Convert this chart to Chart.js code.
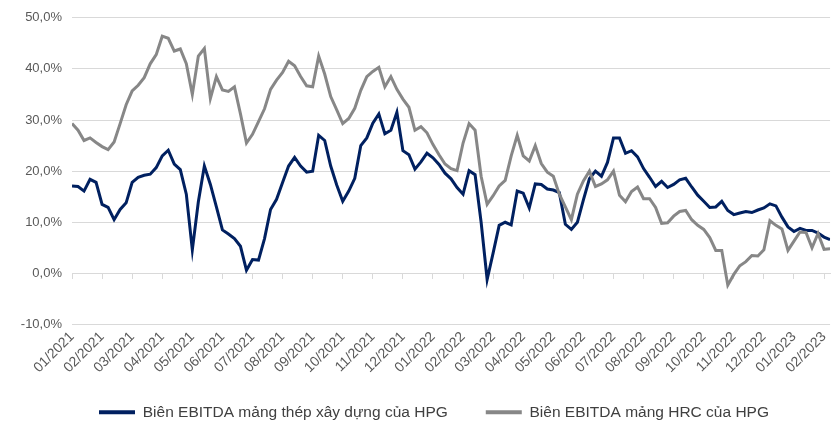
<!DOCTYPE html>
<html>
<head>
<meta charset="utf-8">
<script src="https://cdn.jsdelivr.net/npm/chart.js@4.4.1/dist/chart.umd.min.js"></script>
<style>
  html, body { margin: 0; padding: 0; background: #fff; }
</style>
</head>
<body>
<canvas id="myChart" width="840" height="423"></canvas>
<script>
// nhãn tháng trên trục hoành
var thang = ['01/2021','02/2021','03/2021','04/2021','05/2021','06/2021','07/2021','08/2021','09/2021','10/2021','11/2021','12/2021',
             '01/2022','02/2022','03/2022','04/2022','05/2022','06/2022','07/2022','08/2022','09/2022','10/2022','11/2022','12/2022',
             '01/2023','02/2023'];
var nhanTrucTung = ['-10,0%','0,0%','10,0%','20,0%','30,0%','40,0%','50,0%'];
var buoc = 0.2; // khoảng cách giữa 2 điểm, tính theo tháng

// Biên EBITDA mảng thép xây dựng (%)
var bienThepXD = [
  17.1, 17.0, 16.1, 18.4, 17.8, 13.5, 12.9, 10.5, 12.5, 13.8,
  17.8, 18.8, 19.2, 19.4, 20.7, 23.0, 24.1, 21.4, 20.3, 15.5,
  4.6, 14.0, 21.0, 17.4, 13.0, 8.5, 7.7, 6.8, 5.3, 0.6,
  2.7, 2.6, 6.8, 12.5, 14.5, 17.8, 21.0, 22.7, 21.0, 19.8,
  20.0, 27.0, 26.0, 21.0, 17.3, 14.1, 16.1, 18.6, 25.0, 26.5,
  29.4, 31.2, 27.3, 28.0, 31.5, 24.0, 23.2, 20.4, 21.8, 23.5,
  22.6, 21.3, 19.6, 18.5, 16.8, 15.5, 20.1, 19.3, 10.0, -1.2,
  4.0, 9.4, 10.0, 9.5, 16.1, 15.7, 12.8, 17.5, 17.4, 16.5,
  16.3, 15.8, 9.6, 8.6, 10.0, 14.4, 18.5, 20.0, 19.0, 21.7,
  26.5, 26.5, 23.5, 24.0, 22.8, 20.5, 18.8, 17.0, 18.0, 16.8,
  17.4, 18.3, 18.6, 16.9, 15.3, 14.1, 12.9, 13.0, 14.1, 12.3,
  11.5, 11.8, 12.1, 11.9, 12.4, 12.8, 13.6, 13.2, 11.0, 9.1,
  8.2, 8.8, 8.4, 8.4, 7.9, 7.1, 6.6
];

// Biên EBITDA mảng HRC (%)
var bienHRC = [
  29.3, 28.0, 26.0, 26.5, 25.6, 24.8, 24.2, 25.7, 29.3, 33.0,
  35.7, 36.8, 38.3, 41.0, 42.8, 46.4, 46.0, 43.5, 43.9, 41.0,
  35.0, 42.5, 44.0, 34.2, 38.5, 35.9, 35.6, 36.5, 31.2, 25.5,
  27.2, 29.7, 32.2, 36.0, 37.8, 39.3, 41.5, 40.6, 38.5, 36.7,
  36.5, 42.5, 39.0, 34.6, 32.0, 29.3, 30.3, 32.3, 35.8, 38.5,
  39.5, 40.3, 36.5, 38.5, 36.0, 34.1, 32.5, 28.0, 28.7, 27.5,
  25.2, 23.2, 21.4, 20.5, 20.1, 25.5, 29.3, 28.0, 19.0, 13.5,
  15.2, 17.1, 18.2, 23.0, 27.0, 23.0, 22.0, 25.0, 21.5, 19.8,
  19.0, 15.5, 13.0, 10.5, 15.5, 18.1, 20.0, 17.0, 17.5, 18.3,
  20.0, 15.3, 14.0, 16.0, 16.9, 14.6, 14.6, 12.9, 9.8, 9.9,
  11.2, 12.1, 12.3, 10.5, 9.4, 8.6, 7.0, 4.5, 4.5, -2.3,
  -0.2, 1.5, 2.3, 3.5, 3.4, 4.6, 10.3, 9.4, 8.7, 4.5,
  6.3, 8.1, 8.0, 5.0, 7.8, 4.7, 4.8
];

function toPoints(arr) {
  return arr.map(function(v, i){ return {x: i * buoc, y: v}; });
}

var mauXanh = '#002060';
var mauXam = '#878787';
var chu = '#595959';
var luoi = '#d9d9d9';
var font = 'Liberation Sans, Arial, sans-serif';

// chỉnh vị trí legend + nới vùng vẽ nhãn trục hoành (nhãn xoay bị cắt theo chiều cao trục)
var chinhBoCuc = {
  id: 'chinhBoCuc',
  afterLayout: function(chart) {
    var lg = chart.legend;
    lg.left += 18; lg.right += 18;
    lg.top += 7; lg.bottom += 7;
    var sx = chart.scales.x;
    sx.bottom = sx.top + 70;
  }
};

var ctx = document.getElementById('myChart');
var myChart = new Chart(ctx, {
  type: 'line',
  data: {
    datasets: [{
      label: 'Biên EBITDA mảng thép xây dựng của HPG',
      data: toPoints(bienThepXD),
      borderColor: mauXanh,
      backgroundColor: mauXanh,
      borderWidth: 3,
      pointRadius: 0,
      tension: 0,
      order: 1
    }, {
      label: 'Biên EBITDA mảng HRC của HPG',
      data: toPoints(bienHRC),
      borderColor: mauXam,
      backgroundColor: mauXam,
      borderWidth: 3,
      pointRadius: 0,
      tension: 0,
      order: 0
    }]
  },
  options: {
    responsive: false,
    animation: false,
    layout: { padding: { top: 16, right: 8, left: 0, bottom: 0 } },
    plugins: {
      tooltip: { enabled: false },
      legend: {
        position: 'bottom',
        labels: {
          color: '#404040',
          font: { family: font, size: 15.5 },
          boxWidth: 36,
          boxHeight: 4,
          padding: 38,
          sort: function(a, b){ return a.datasetIndex - b.datasetIndex; },
          generateLabels: function(chart) {
            return Chart.defaults.plugins.legend.labels.generateLabels(chart).map(function(l){
              l.lineWidth = 0;
              return l;
            });
          }
        }
      }
    },
    scales: {
      x: {
        type: 'linear',
        min: 0,
        max: 25.2,
        afterFit: function(scale){ scale.height = 35; },
        grid: { display: false, drawTicks: false },
        border: { display: false },
        ticks: {
          stepSize: 1,
          includeBounds: false,
          autoSkip: false,
          minRotation: 45,
          maxRotation: 45,
          padding: 4,
          color: chu,
          font: { family: font, size: 14 },
          callback: function(v){ return thang[v] !== undefined && Number.isInteger(v) ? thang[v] : ''; }
        }
      },
      x2: {
        type: 'linear',
        position: { y: 0 },
        min: 0,
        max: 25.2,
        grid: { drawOnChartArea: false, drawTicks: true, tickLength: 5, color: luoi },
        border: { display: true, color: luoi },
        ticks: { stepSize: 1, includeBounds: false, autoSkip: false, display: false }
      },
      y: {
        min: -10,
        max: 50,
        afterFit: function(scale){ scale.width = 72; },
        grid: { color: luoi, drawTicks: false },
        border: { display: false },
        ticks: {
          stepSize: 10,
          padding: 10,
          color: chu,
          font: { family: font, size: 13 },
          callback: function(v){ return nhanTrucTung[(v + 10) / 10]; }
        }
      }
    }
  },
  plugins: [chinhBoCuc]
});
</script>
</body>
</html>
